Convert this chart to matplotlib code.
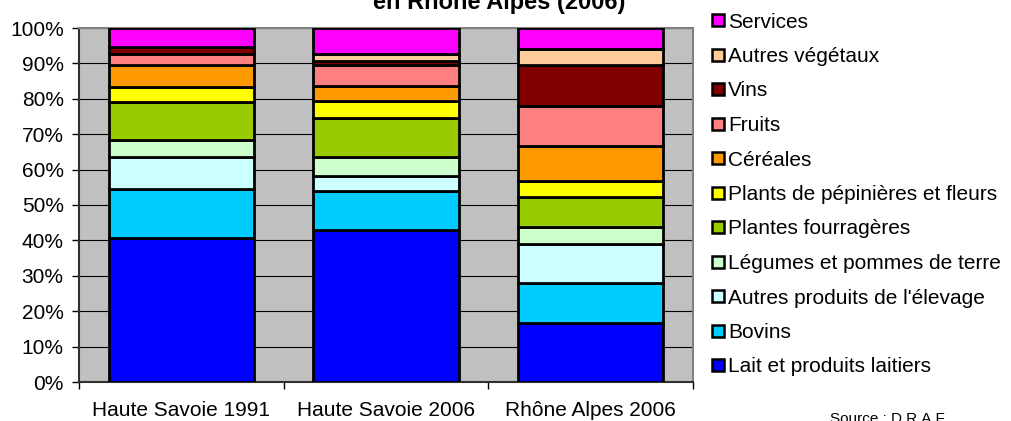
import matplotlib
matplotlib.use("Agg")
import matplotlib.pyplot as plt
from matplotlib.patches import Rectangle
import numpy as np

plt.rcParams['font.family'] = ['Liberation Sans', 'DejaVu Sans']

groups = ["Haute Savoie 1991", "Haute Savoie 2006", "Rhône Alpes 2006"]
categories = ["Lait et produits laitiers", "Bovins", "Autres produits de l'élevage",
              "Légumes et pommes de terre", "Plantes fourragères",
              "Plants de pépinières et fleurs", "Céréales", "Fruits", "Vins",
              "Autres végétaux", "Services"]
lait = [40.8, 42.9, 16.7]
bovins = [13.7, 11.1, 11.2]
autres_elevage = [9.0, 4.2, 11.2]
legumes = [4.9, 5.4, 4.8]
fourrageres = [10.7, 10.9, 8.3]
plants = [4.3, 4.9, 4.5]
cereales = [6.1, 4.3, 9.9]
fruits = [3.2, 5.8, 11.3]
vins = [1.8, 1.3, 11.6]
autres_vegetaux = [0.0, 1.8, 4.6]
services = [5.5, 7.4, 6.0]
series = [lait, bovins, autres_elevage, legumes, fourrageres, plants,
          cereales, fruits, vins, autres_vegetaux, services]
colors = ["#0000FF", "#00CCFF", "#CCFFFF", "#CCFFCC", "#99CC00", "#FFFF00",
          "#FF9900", "#FF8080", "#800000", "#FFCC99", "#FF00FF"]
yticks = [0, 10, 20, 30, 40, 50, 60, 70, 80, 90, 100]
title = "en Rhône Alpes (2006)"
source = "Source : D.R.A.F."

W, H = 1011, 421
fig = plt.figure(figsize=(W / 100, H / 100), dpi=100)
ax = fig.add_axes([79 / W, 1 - 382 / H, (693 - 79) / W, (382 - 28) / H])
ax.set_facecolor("#C0C0C0")

x = np.arange(len(groups))
bottom = np.zeros(len(groups))
for vals, col in zip(series, colors):
    v = np.array(vals, dtype=float)
    ax.bar(x, v, bottom=bottom, width=0.71, color=col, edgecolor="black",
           linewidth=2.0, zorder=3)
    bottom += v

ax.set_xlim(-0.5, len(groups) - 0.5)
ax.set_ylim(0, 100)
ax.set_yticks(yticks)
ax.set_yticklabels([f"{t}%" for t in yticks], fontsize=15)
ax.grid(axis="y", color="black", linewidth=0.8, zorder=1)
ax.set_axisbelow(True)

ax.set_xticks(np.arange(-0.5, len(groups), 1.0))
ax.set_xticklabels([""] * (len(groups) + 1))
ax.tick_params(axis="x", which="major", direction="out", length=5, width=1, color="black")
ax.set_xticks(x, minor=True)
ax.set_xticklabels(groups, minor=True, fontsize=15)
ax.tick_params(axis="x", which="minor", length=0, pad=14)
ax.tick_params(axis="y", direction="out", length=5, width=1, pad=6)

for s in ["top", "right"]:
    ax.spines[s].set_color("#808080")
    ax.spines[s].set_linewidth(1.5)
for s in ["left", "bottom"]:
    ax.spines[s].set_color("#303030")
    ax.spines[s].set_linewidth(1.5)

fig.text(499 / W, 1 - 9 / H, title, ha="center", va="baseline",
         fontsize=17, fontweight="bold")
fig.text(889 / W, 1 - 423 / H, source, ha="center", va="baseline", fontsize=11)

# legend (top: Services ... bottom: Lait)
top_y, pitch = 20, 34.5
for i, (lab, col) in enumerate(zip(categories[::-1], colors[::-1])):
    cy = top_y + i * pitch
    fig.add_artist(Rectangle((711.5 / W, 1 - (cy + 6) / H), 12 / W, 12 / H,
                             transform=fig.transFigure, facecolor=col,
                             edgecolor="black", linewidth=1.8))
    fig.text(728 / W, 1 - (cy + 7.5) / H, lab, ha="left", va="baseline", fontsize=15)

fig.savefig("out.png", dpi=100)
